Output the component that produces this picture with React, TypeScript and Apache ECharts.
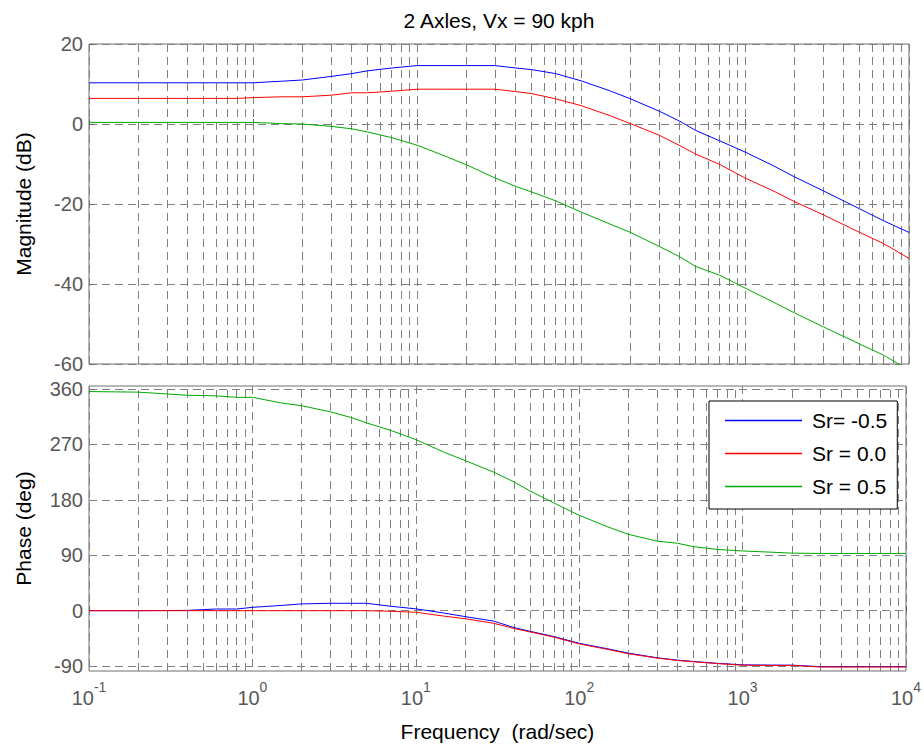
import React, { useEffect, useRef } from "react";
import * as echarts from "echarts";

const FONT = "'Liberation Sans', Arial, Helvetica, sans-serif";

// Frequency grid (rad/sec)
const freq = [0.1, 0.2, 0.4, 0.6, 0.8, 1, 1.5, 2, 3, 4, 5, 7, 10, 15, 20, 30, 40, 50, 70, 100, 150, 200, 300, 400, 500, 700, 1000, 1500, 2000, 3000, 5000, 7000, 10000];

// Magnitude (dB)
const magSrNeg05 = [10.3, 10.3, 10.3, 10.3, 10.3, 10.3, 10.7, 11.0, 11.9, 12.6, 13.3, 14.0, 14.6, 14.6, 14.6, 14.6, 14.0, 13.6, 12.6, 10.8, 8.3, 6.3, 3.2, 0.7, -1.6, -4.2, -7.0, -10.5, -13.2, -16.7, -21.2, -24.2, -27.1];
const magSr00 = [6.4, 6.4, 6.4, 6.4, 6.4, 6.6, 6.8, 6.8, 7.2, 7.8, 7.8, 8.2, 8.7, 8.7, 8.7, 8.7, 8.1, 7.6, 6.3, 4.6, 2.1, 0.1, -2.8, -5.4, -7.5, -10.1, -13.5, -16.8, -19.4, -22.7, -27.1, -29.9, -33.6];
const magSr05 = [0.4, 0.4, 0.4, 0.4, 0.4, 0.4, 0.1, 0.0, -0.6, -1.2, -2.0, -3.4, -5.3, -8.1, -10.2, -13.5, -15.6, -17.0, -19.2, -22.0, -25.0, -27.1, -30.6, -33.2, -35.6, -37.8, -41.0, -44.6, -47.2, -50.7, -55.0, -57.8, -61.5];

// Phase (deg)
const phSrNeg05 = [0, 0, 0.5, 2.7, 2.7, 5.4, 8.5, 11, 12, 12, 12, 7.2, 3, -4, -9.6, -17, -27.5, -33.5, -42, -53, -62, -69, -76.5, -80.4, -82.5, -85.5, -88, -88.4, -88.5, -91, -91, -91, -91];
const phSr00 = [0, 0, 0, 0, 0, 0, 0, 0, 0, 0, 0, -1, -2.5, -9, -13, -20.5, -29, -34.5, -43, -54, -63, -70, -77, -81, -83, -86, -88.5, -89, -89, -91.5, -91.5, -91.5, -91.5];
const phSr05 = [356, 355, 350, 349, 346.6, 346.6, 337.5, 333, 323, 314, 305, 293, 278, 257, 244, 225, 209, 194.5, 175, 155, 136, 124, 113, 109.5, 104, 99.5, 97, 95, 93.5, 93, 93, 93, 93];

const seriesNames = ["Sr= -0.5", "Sr = 0.0", "Sr = 0.5"];
const seriesColors = ["#0000ff", "#ff0000", "#00a800"];

const magTicks = { min: -60, max: 20, interval: 20 };
const phaseTickValues = [-90, 0, 90, 180, 270, 360];
const phaseRange = { min: -98, max: 365 };

const minorFreqs: number[] = [];
for (let e = -1; e < 4; e++) {
  for (let k = 2; k <= 9; k++) minorFreqs.push(parseFloat((k * Math.pow(10, e)).toPrecision(3)));
}

const GRID_COLOR = "#808080";
const DASH = [8, 5];

export default function App() {
  const ref = useRef<HTMLDivElement>(null);

  useEffect(() => {
    if (!ref.current) return;
    const chart = echarts.init(ref.current, undefined, { renderer: "svg" });

    const gridLine = { show: true, lineStyle: { color: GRID_COLOR, width: 1, type: DASH } };
    const tickLabelStyle = { color: "#585858", fontSize: 20, fontFamily: FONT };

    const xAxisBase = (gridIndex: number, showLabels: boolean) => ({
      type: "log",
      logBase: 10,
      gridIndex,
      min: 0.1,
      max: 10000,
      axisLine: { show: false },
      axisTick: { show: true, inside: true, length: 5, lineStyle: { color: "#666" } },
      splitLine: gridLine,
      axisLabel: showLabels
        ? {
            show: true,
            margin: 6,
            formatter: (v: number) => `{b|10}{s|${Math.round(Math.log10(v))}}`,
            rich: {
              b: { fontSize: 20, color: "#585858", fontFamily: FONT, verticalAlign: "bottom", height: 22, lineHeight: 32 },
              s: { fontSize: 14, color: "#585858", fontFamily: FONT, verticalAlign: "top", height: 20, lineHeight: 20 },
            },
          }
        : { show: false },
    });

    const mkData = (ys: number[]) => freq.map((f, i) => [f, ys[i]]);

    const lineSeries = (name: string, color: string, ys: number[], gi: number) => ({
      type: "line",
      name,
      xAxisIndex: gi,
      yAxisIndex: gi,
      data: mkData(ys),
      symbol: "none",
      lineStyle: { color, width: 1 },
      itemStyle: { color },
      z: 3,
    });

    const markGrid = (gi: number, data: any[]) => ({
      type: "line",
      name: "grid" + gi + "_" + data.length,
      xAxisIndex: gi,
      yAxisIndex: gi,
      data: [],
      silent: true,
      z: 1,
      markLine: {
        silent: true,
        z: 1,
        symbol: ["none", "none"],
        label: { show: false },
        lineStyle: { color: GRID_COLOR, width: 1, type: DASH },
        emphasis: { disabled: true },
        data,
      },
    });

    chart.setOption({
      animation: false,
      backgroundColor: "#ffffff",
      title: {
        text: "2 Axles, Vx = 90 kph",
        left: 499,
        top: 10,
        textAlign: "center",
        padding: 0,
        textStyle: { fontSize: 21, fontWeight: "normal", color: "#000", fontFamily: FONT },
      },
      legend: {
        data: seriesNames.map((n) => ({ name: n, icon: "rect" })),
        orient: "vertical",
        left: 709,
        top: 401,
        z: 10,
        padding: [9, 10, 12, 16],
        itemWidth: 77,
        itemHeight: 1.5,
        itemGap: 12,
        itemStyle: { borderWidth: 0 },
        backgroundColor: "#ffffff",
        borderColor: "#000000",
        borderWidth: 1,
        borderRadius: 0,
        selectedMode: false,
        formatter: (name: string) => `{t|${name}}`,
        textStyle: {
          fontSize: 21,
          color: "#000",
          fontFamily: FONT,
          lineHeight: 20,
          rich: {
            t: { fontSize: 21, color: "#000", fontFamily: FONT, lineHeight: 20, padding: [0, 0, 0, 5] },
          },
        },
      },
      grid: [
        { left: 89, top: 44, width: 820, height: 320, show: true, borderColor: "#6e6e6e", borderWidth: 1, backgroundColor: "#fff" },
        { left: 89, top: 386, width: 820, height: 285, show: true, borderColor: "#6e6e6e", borderWidth: 1, backgroundColor: "#fff" },
      ],
      xAxis: [
        xAxisBase(0, false),
        {
          ...xAxisBase(1, true),
          name: "Frequency  (rad/sec)",
          nameLocation: "middle",
          nameGap: 50,
          nameTextStyle: { fontSize: 21, color: "#000", fontFamily: FONT },
        },
      ],
      yAxis: [
        {
          type: "value",
          gridIndex: 0,
          min: magTicks.min,
          max: magTicks.max,
          interval: magTicks.interval,
          name: "Magnitude (dB)",
          nameLocation: "middle",
          nameGap: 55,
          nameTextStyle: { fontSize: 21, color: "#000", fontFamily: FONT },
          axisLine: { show: false },
          axisTick: { show: true, inside: true, length: 5, lineStyle: { color: "#666" } },
          axisLabel: { ...tickLabelStyle, margin: 6 },
          splitLine: gridLine,
        },
        {
          type: "value",
          gridIndex: 1,
          min: phaseRange.min,
          max: phaseRange.max,
          name: "Phase (deg)",
          nameLocation: "middle",
          nameGap: 55,
          nameTextStyle: { fontSize: 21, color: "#000", fontFamily: FONT },
          axisLine: { show: false },
          axisTick: { show: true, inside: true, length: 5, customValues: phaseTickValues, lineStyle: { color: "#666" } },
          axisLabel: { ...tickLabelStyle, margin: 6, customValues: phaseTickValues },
          splitLine: { show: false },
        },
      ],
      series: [
        markGrid(0, minorFreqs.map((f) => ({ xAxis: f }))),
        markGrid(1, minorFreqs.map((f) => ({ xAxis: f }))),
        markGrid(1, phaseTickValues.map((v) => ({ yAxis: v }))),
        lineSeries(seriesNames[0], seriesColors[0], magSrNeg05, 0),
        lineSeries(seriesNames[1], seriesColors[1], magSr00, 0),
        lineSeries(seriesNames[2], seriesColors[2], magSr05, 0),
        lineSeries(seriesNames[0], seriesColors[0], phSrNeg05, 1),
        lineSeries(seriesNames[1], seriesColors[1], phSr00, 1),
        lineSeries(seriesNames[2], seriesColors[2], phSr05, 1),
      ],
    });

    return () => chart.dispose();
  }, []);

  return (
    <div
      ref={ref}
      style={{ position: "fixed", left: 0, top: 0, width: 924, height: 747, background: "#fff" }}
    />
  );
}
